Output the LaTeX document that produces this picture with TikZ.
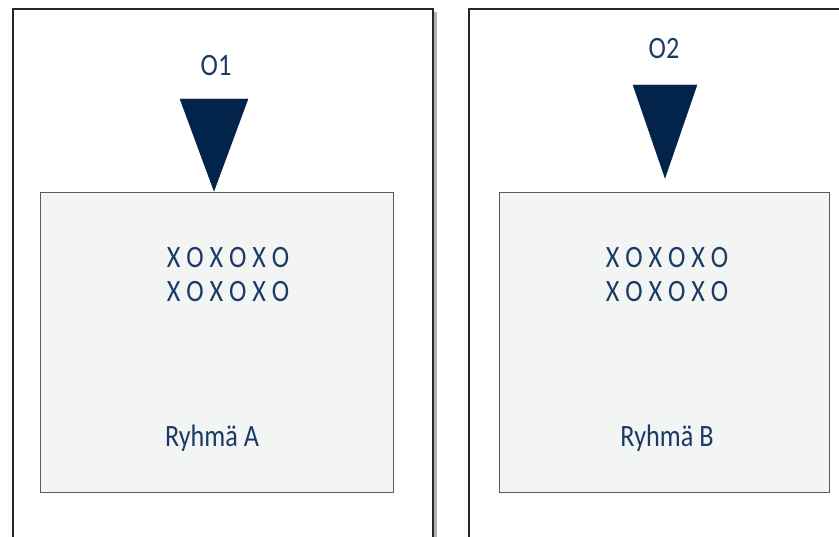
\documentclass[tikz,border=0pt]{standalone}
\usepackage{fontspec}
\setmainfont{Carlito}
\definecolor{navy}{HTML}{1B3A64}
\definecolor{trifill}{HTML}{02234A}
\definecolor{innerfill}{HTML}{F3F5F5}
\definecolor{innerline}{HTML}{5A5A5A}
\newcommand{\tallt}[1]{\scalebox{0.97}[1.15]{#1}}
\tikzset{
  outerbox/.style={draw=black!85, line width=1.4pt, fill=white},
  shadowbox/.style={fill=black!30},
  innerbox/.style={draw=innerline, line width=0.8pt, fill=innerfill},
  lbl/.style={text=navy, font=\fontsize{27}{30}\selectfont, inner sep=0pt},
  tri/.style={fill=trifill, draw=trifill, line width=0.4pt}
}
\begin{document}
\begin{tikzpicture}[x=1pt,y=-1pt]
\useasboundingbox (0,0) rectangle (839,537);
\clip (0,0) rectangle (839,537);
% shadows
\fill[shadowbox] (16,12) rectangle (437,560);
\fill[shadowbox] (472,12) rectangle (860,560);
% outer frames
\draw[outerbox] (13,9) rectangle (433,560);
\draw[outerbox] (469,9) rectangle (850,560);
% inner boxes
\node[innerbox, minimum width=353pt, minimum height=300pt, anchor=north west] (boxA) at (40,192) {};
\node[innerbox, minimum width=330pt, minimum height=300pt, anchor=north west] (boxB) at (499,192) {};
% triangles
\draw[tri] (180,99) -- (248,99) -- (214,191) -- cycle;
\draw[tri] (633,85) -- (697,85) -- (665,178) -- cycle;
% labels
\node[lbl] (o1) at (216,66) {\tallt{O1}};
\node[lbl] (o2) at (664,49) {\tallt{O2}};
\node[lbl] (xa1) at (228,258) {\tallt{X O X O X O}};
\node[lbl] (xa2) at (228,292) {\tallt{X O X O X O}};
\node[lbl] (xb1) at (667,258) {\tallt{X O X O X O}};
\node[lbl] (xb2) at (667,292) {\tallt{X O X O X O}};
\node[lbl] (ra) at (212,438) {\tallt{Ryhmä A}};
\node[lbl] (rb) at (667,438) {\tallt{Ryhmä B}};
\end{tikzpicture}
\end{document}
